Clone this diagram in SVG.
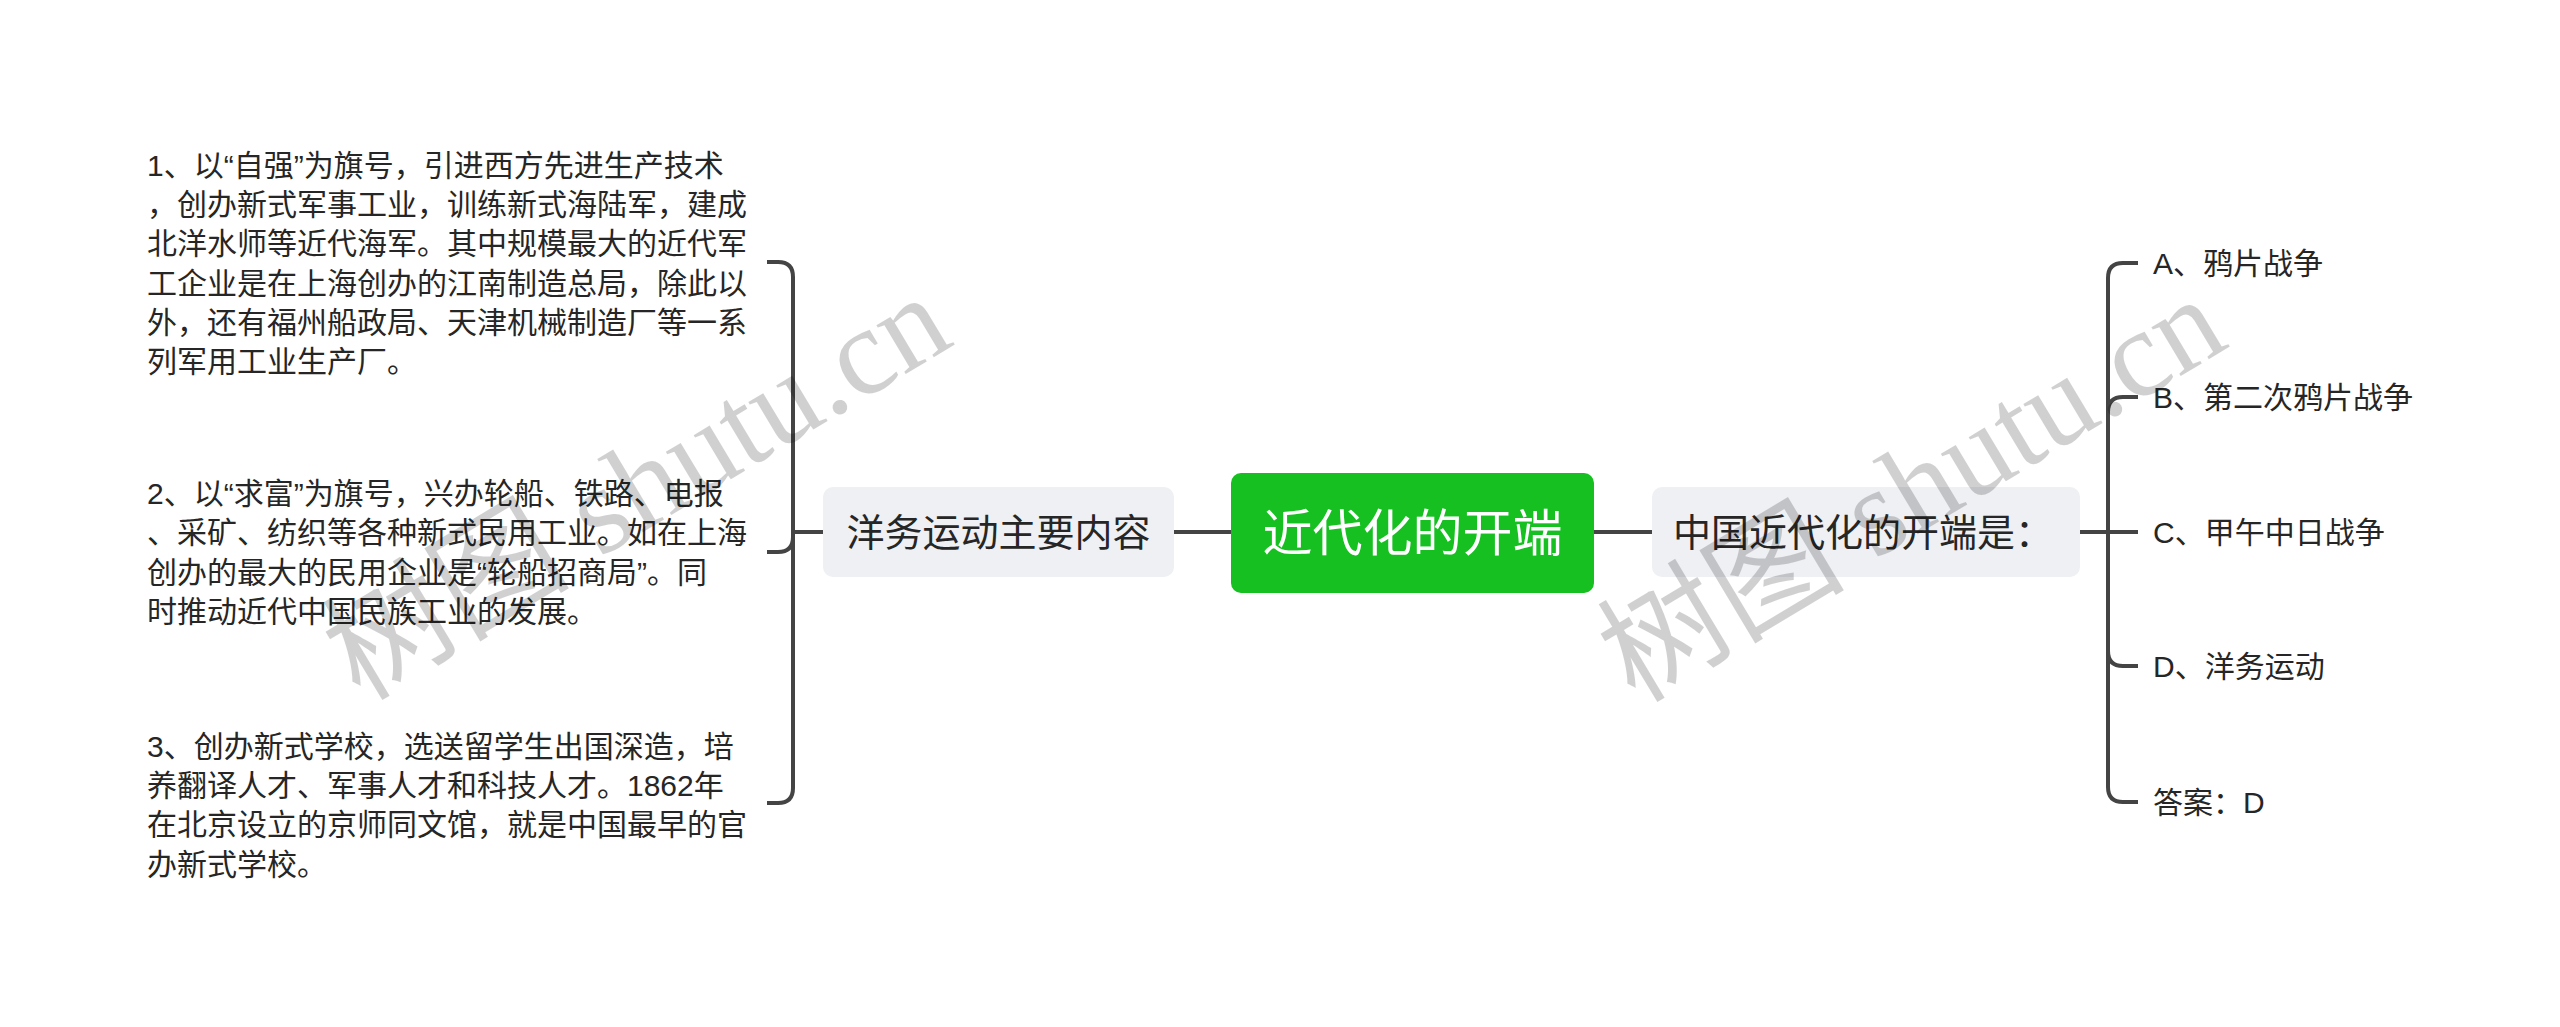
<svg xmlns="http://www.w3.org/2000/svg" width="2560" height="1027" viewBox="0 0 2560 1027">
<style>
.t{font-family:"Liberation Sans","Noto Sans CJK SC",sans-serif;fill:#262626}
.s{font-size:30px}
.box{fill:#eef0f3}
.lk{fill:none;stroke:#444;stroke-width:4}
.wm{font-family:"Liberation Serif","Noto Sans CJK SC",serif;font-size:124px;fill:#000;opacity:0.18}
</style>
<rect width="2560" height="1027" fill="#fff"/>
<g id="connectors">
<path class="lk" d="M1174 532H1231"/>
<path class="lk" d="M1594 532H1652"/>
<path class="lk" d="M823 532H793"/>
<path class="lk" d="M793 532V277Q793 262 778 262H767"/>
<path class="lk" d="M793 532V537Q793 552 778 552H767"/>
<path class="lk" d="M793 532V788Q793 803 778 803H767"/>
<path class="lk" d="M2080 532H2108"/>
<path class="lk" d="M2108 532V278Q2108 263 2123 263H2138"/>
<path class="lk" d="M2108 532V412Q2108 397 2123 397H2138"/>
<path class="lk" d="M2108 532H2138"/>
<path class="lk" d="M2108 532V651Q2108 666 2123 666H2138"/>
<path class="lk" d="M2108 532V787Q2108 802 2123 802H2138"/>
</g>
<g id="root">
<rect x="1231" y="473" width="363" height="120" rx="10" fill="#15c020"/>
<text x="1412.5" y="551" text-anchor="middle" class="t" style="font-size:50px;fill:#fff">近代化的开端</text>
</g>
<g id="left-main">
<rect class="box" x="823" y="487" width="351" height="90" rx="10"/>
<text x="998.5" y="546" text-anchor="middle" class="t" style="font-size:38px">洋务运动主要内容</text>
</g>
<g id="right-main">
<rect class="box" x="1652" y="487" width="428" height="90" rx="10"/>
<text x="1673" y="546" class="t" style="font-size:38px">中国近代化的开端是：</text>
</g>
<g id="child1">
<text class="t s"><tspan x="147" y="176">1、以“自强”为旗号，引进西方先进生产技术</tspan><tspan x="147" y="215">，创办新式军事工业，训练新式海陆军，建成</tspan><tspan x="147" y="254">北洋水师等近代海军。其中规模最大的近代军</tspan><tspan x="147" y="294">工企业是在上海创办的江南制造总局，除此以</tspan><tspan x="147" y="333">外，还有福州船政局、天津机械制造厂等一系</tspan><tspan x="147" y="372">列军用工业生产厂。</tspan></text>
</g>
<g id="child2">
<text class="t s"><tspan x="147" y="504">2、以“求富”为旗号，兴办轮船、铁路、电报</tspan><tspan x="147" y="543">、采矿、纺织等各种新式民用工业。如在上海</tspan><tspan x="147" y="583">创办的最大的民用企业是“轮船招商局”。同</tspan><tspan x="147" y="622">时推动近代中国民族工业的发展。</tspan></text>
</g>
<g id="child3">
<text class="t s"><tspan x="147" y="757">3、创办新式学校，选送留学生出国深造，培</tspan><tspan x="147" y="796">养翻译人才、军事人才和科技人才。1862年</tspan><tspan x="147" y="835">在北京设立的京师同文馆，就是中国最早的官</tspan><tspan x="147" y="875">办新式学校。</tspan></text>
</g>
<g id="optA"><text x="2153" y="274" class="t s">A、鸦片战争</text></g>
<g id="optB"><text x="2153" y="408" class="t s">B、第二次鸦片战争</text></g>
<g id="optC"><text x="2153" y="543" class="t s">C、甲午中日战争</text></g>
<g id="optD"><text x="2153" y="677" class="t s">D、洋务运动</text></g>
<g id="answer"><text x="2153" y="813" class="t s">答案：D</text></g>
<g id="watermarks">
<text class="wm" transform="translate(360,702) rotate(-31)">树图 shutu.cn</text>
<text class="wm" transform="translate(1635,704) rotate(-31)">树图 shutu.cn</text>
</g>
</svg>
